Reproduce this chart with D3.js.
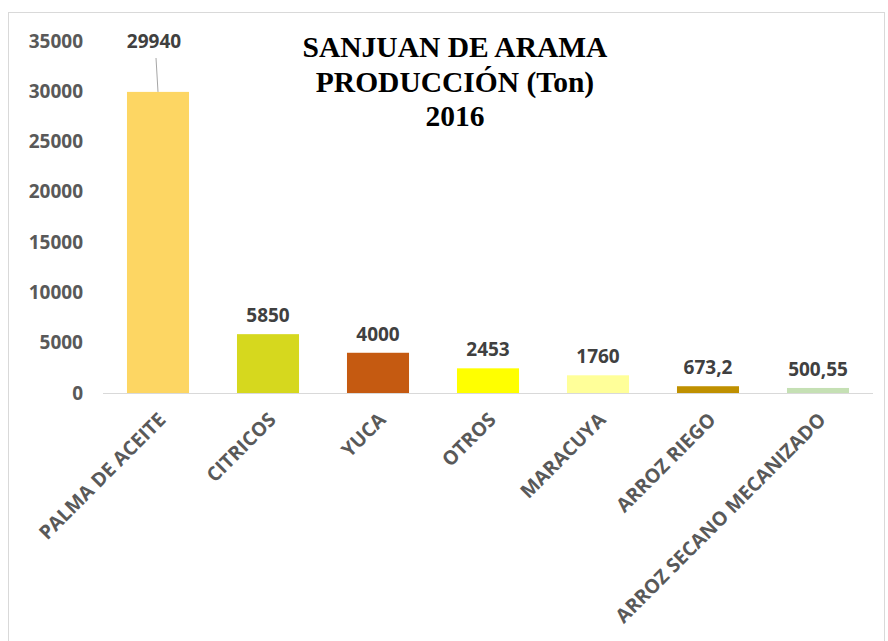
<!DOCTYPE html>
<html>
<head>
<meta charset="utf-8">
<script src="https://cdn.jsdelivr.net/npm/d3@7"></script>
<style>
  body { margin: 0; background: #fff; }
  svg { display: block; }
</style>
</head>
<body>
<svg class="chart" width="888" height="641"></svg>
<script>
// data
var categories = ['PALMA DE ACEITE', 'CITRICOS', 'YUCA', 'OTROS', 'MARACUYA', 'ARROZ RIEGO', 'ARROZ SECANO MECANIZADO']
var values = [29940, 5850, 4000, 2453, 1760, 673.2, 500.55]
var valueLabels = ['29940', '5850', '4000', '2453', '1760', '673,2', '500,55']
var barColors = ['#fdd663', '#d6d81e', '#c55a11', '#ffff00', '#ffff99', '#bf9000', '#c5e0b4']
var yTicks = [0, 5000, 10000, 15000, 20000, 25000, 30000, 35000]
var titleLines = ['SANJUAN DE ARAMA', 'PRODUCCIÓN (Ton)', '2016']

var sans = '"Open Sans", "Liberation Sans", sans-serif'
var serif = '"Liberation Serif", "Times New Roman", serif'

var svg = d3.select('.chart')

// chart frame
svg.append('rect')
  .attr('x', 8.5).attr('y', 12.5)
  .attr('width', 876).attr('height', 660)
  .attr('fill', 'none')
  .attr('stroke', '#d9d9d9')

const plotLeft = 103, plotRight = 873, plotTop = 41, plotBottom = 393

const xScale = d3.scaleBand()
  .range([plotLeft, plotRight])
  .domain(categories)
  .paddingInner(0.436)
  .paddingOuter(0.218)

const yScale = d3.scaleLinear()
  .range([plotBottom, plotTop])
  .domain([0, 35000])

// y axis labels (no line)
const yAxis = svg.append('g')
  .attr('transform', `translate(${plotLeft}, 0)`)
  .call(d3.axisLeft(yScale).tickValues(yTicks).tickSize(0).tickPadding(20).tickFormat(d3.format('d')))
yAxis.select('.domain').remove()
yAxis.selectAll('text')
  .style('font-family', sans)
  .style('font-weight', 'bold')
  .style('font-size', '19px')
  .attr('fill', '#595959')

// baseline
svg.append('line')
  .attr('x1', plotLeft).attr('x2', plotRight)
  .attr('y1', yScale(0) + 0.5).attr('y2', yScale(0) + 0.5)
  .attr('stroke', '#d9d9d9')

// bars
svg.selectAll('.bar')
  .data(categories)
  .enter()
  .append('rect')
  .attr('class', 'bar')
  .attr('x', d => xScale(d))
  .attr('width', xScale.bandwidth())
  .attr('y', (d, i) => yScale(values[i]))
  .attr('height', (d, i) => yScale(0) - yScale(values[i]))
  .attr('fill', (d, i) => barColors[i])

// value labels, the first one is pulled up with a leader line
svg.selectAll('.val')
  .data(categories)
  .enter()
  .append('text')
  .attr('class', 'val')
  .attr('x', (d, i) => xScale(d) + xScale.bandwidth() / 2 - (i == 0 ? 4 : 0))
  .attr('y', (d, i) => i == 0 ? 48 : yScale(values[i]) - 12)
  .attr('text-anchor', 'middle')
  .style('font-family', sans)
  .style('font-weight', 'bold')
  .style('font-size', '19px')
  .attr('fill', '#404040')
  .text((d, i) => valueLabels[i])

svg.append('line')
  .attr('x1', xScale(categories[0]) + xScale.bandwidth() / 2 - 2)
  .attr('y1', 58)
  .attr('x2', xScale(categories[0]) + xScale.bandwidth() / 2)
  .attr('y2', yScale(values[0]))
  .attr('stroke', '#a6a6a6')

// category labels
svg.selectAll('.cat')
  .data(categories)
  .enter()
  .append('text')
  .attr('class', 'cat')
  .attr('transform', d => 'translate(' + (xScale(d) + xScale.bandwidth() / 2 + 9) + ',' + 421 + ') rotate(-45)')
  .attr('text-anchor', 'end')
  .style('font-family', sans)
  .style('font-weight', 'bold')
  .style('font-size', '19.5px')
  .attr('fill', '#595959')
  .text(d => d)

// title
svg.append('text')
  .attr('text-anchor', 'middle')
  .style('font-family', serif)
  .style('font-weight', 'bold')
  .style('font-size', '29.5px')
  .attr('fill', '#000')
  .selectAll('tspan')
  .data(titleLines)
  .enter()
  .append('tspan')
  .attr('x', 455)
  .attr('y', (d, i) => 57 + i * 34.5)
  .text(d => d)
</script>
</body>
</html>
